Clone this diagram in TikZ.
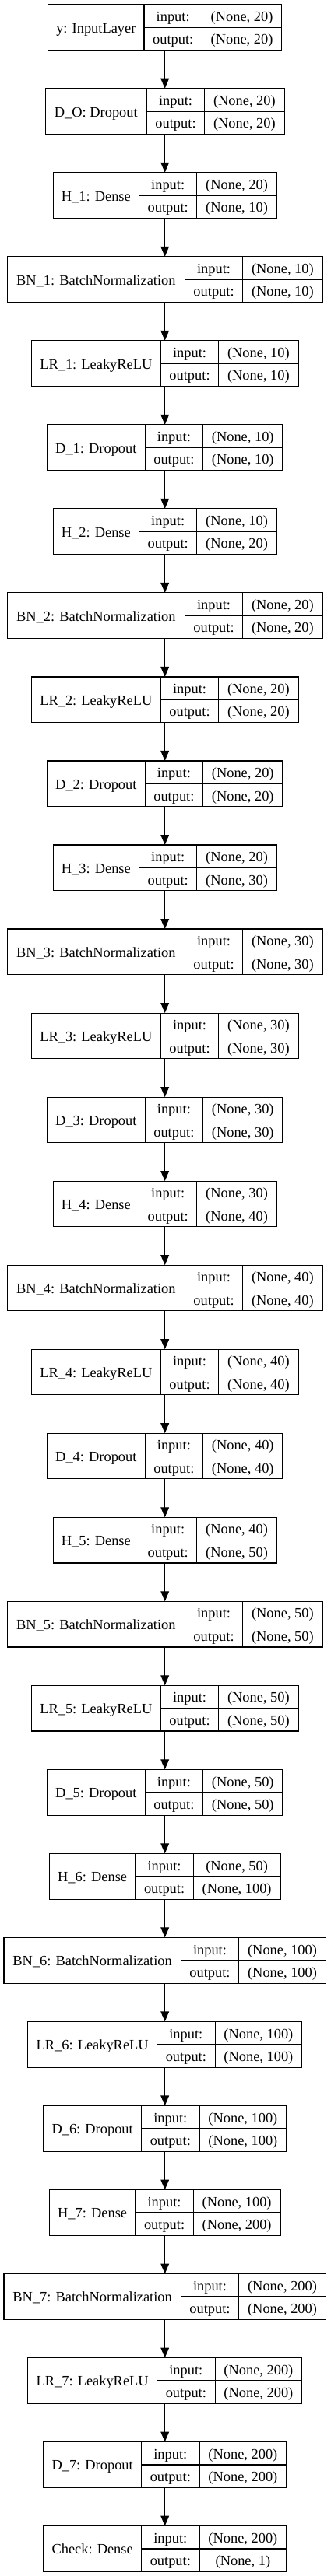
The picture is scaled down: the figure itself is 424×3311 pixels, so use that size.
\documentclass[tikz,border=0pt]{standalone}
\usepackage{fontspec}
\setmainfont{Liberation Serif}
\usetikzlibrary{arrows.meta}
\tikzset{
  layerbox/.style={draw=black, line width=1.1pt, minimum height=58.7pt, inner sep=0pt, outer sep=0pt, fill=white},
  celltext/.style={font=\fontsize{18.4}{22}\selectfont, text height=14pt, text depth=0pt, inner sep=0pt, anchor=center},
  cellline/.style={draw=black, line width=1.1pt},
  flow/.style={draw=black, line width=1.1pt, -{Triangle[width=10.7pt,length=13pt]}},
}
% #1 index, #2 label-cell width, #3 value-cell width, #4 label, #5 input shape, #6 output shape
\newcommand\klayer[6]{%
  \pgfmathsetmacro\lyT{5.7+#1*108.03}%
  \pgfmathsetmacro\lyW{#2+74.4+#3}%
  \pgfmathsetmacro\lyL{211.7-\lyW/2}%
  \pgfmathsetmacro\lyA{\lyL+#2}%
  \pgfmathsetmacro\lyB{\lyA+74.4}%
  \pgfmathsetmacro\lyR{\lyL+\lyW}%
  \pgfmathsetmacro\lyM{\lyT+29.35}%
  \pgfmathsetmacro\lyE{\lyT+58.7}%
  \pgfmathsetmacro\lyU{\lyT+14.67}%
  \pgfmathsetmacro\lyD{\lyT+44.02}%
  \pgfmathsetmacro\lyLC{\lyL+#2/2}%
  \pgfmathsetmacro\lyIC{\lyA+37.2}%
  \pgfmathsetmacro\lyVC{\lyB+#3/2}%
  \node[layerbox, minimum width=\lyW pt] (b#1) at (211.7,\lyM) {};
  \draw[cellline] (\lyA,\lyT) -- (\lyA,\lyE) (\lyB,\lyT) -- (\lyB,\lyE) (\lyA,\lyM) -- (\lyR,\lyM);
  \node[celltext] (lab#1) at (\lyLC,\lyM) {#4};
  \node[celltext] (ik#1) at (\lyIC,\lyU) {input:};
  \node[celltext] (ok#1) at (\lyIC,\lyD) {output:};
  \node[celltext] (iv#1) at (\lyVC,\lyU) {#5};
  \node[celltext] (ov#1) at (\lyVC,\lyD) {#6};
}
\begin{document}
\begin{tikzpicture}[x=1pt,y=-1pt]
  \fill[white] (0,0) rectangle (424,3311);
  \useasboundingbox (0,0) rectangle (424,3311);
  \klayer{0}{123.3}{102.3}{y: InputLayer}{(None, 20)}{(None, 20)}
  \klayer{1}{130}{102.3}{D\_O: Dropout}{(None, 20)}{(None, 20)}
  \klayer{2}{110.3}{102.3}{H\_1: Dense}{(None, 20)}{(None, 10)}
  \klayer{3}{228}{102.3}{BN\_1: BatchNormalization}{(None, 10)}{(None, 10)}
  \klayer{4}{166}{102.3}{LR\_1: LeakyReLU}{(None, 10)}{(None, 10)}
  \klayer{5}{125.7}{102.3}{D\_1: Dropout}{(None, 10)}{(None, 10)}
  \klayer{6}{110.3}{102.3}{H\_2: Dense}{(None, 10)}{(None, 20)}
  \klayer{7}{228}{102.3}{BN\_2: BatchNormalization}{(None, 20)}{(None, 20)}
  \klayer{8}{166}{102.3}{LR\_2: LeakyReLU}{(None, 20)}{(None, 20)}
  \klayer{9}{125.7}{102.3}{D\_2: Dropout}{(None, 20)}{(None, 20)}
  \klayer{10}{110.3}{102.3}{H\_3: Dense}{(None, 20)}{(None, 30)}
  \klayer{11}{228}{102.3}{BN\_3: BatchNormalization}{(None, 30)}{(None, 30)}
  \klayer{12}{166}{102.3}{LR\_3: LeakyReLU}{(None, 30)}{(None, 30)}
  \klayer{13}{125.7}{102.3}{D\_3: Dropout}{(None, 30)}{(None, 30)}
  \klayer{14}{110.3}{102.3}{H\_4: Dense}{(None, 30)}{(None, 40)}
  \klayer{15}{228}{102.3}{BN\_4: BatchNormalization}{(None, 40)}{(None, 40)}
  \klayer{16}{166}{102.3}{LR\_4: LeakyReLU}{(None, 40)}{(None, 40)}
  \klayer{17}{125.7}{102.3}{D\_4: Dropout}{(None, 40)}{(None, 40)}
  \klayer{18}{110.3}{102.3}{H\_5: Dense}{(None, 40)}{(None, 50)}
  \klayer{19}{228}{102.3}{BN\_5: BatchNormalization}{(None, 50)}{(None, 50)}
  \klayer{20}{166}{102.3}{LR\_5: LeakyReLU}{(None, 50)}{(None, 50)}
  \klayer{21}{125.7}{102.3}{D\_5: Dropout}{(None, 50)}{(None, 50)}
  \klayer{22}{110.5}{111.7}{H\_6: Dense}{(None, 50)}{(None, 100)}
  \klayer{23}{227.3}{111.7}{BN\_6: BatchNormalization}{(None, 100)}{(None, 100)}
  \klayer{24}{166}{111.7}{LR\_6: LeakyReLU}{(None, 100)}{(None, 100)}
  \klayer{25}{126}{111.7}{D\_6: Dropout}{(None, 100)}{(None, 100)}
  \klayer{26}{110.5}{111.7}{H\_7: Dense}{(None, 100)}{(None, 200)}
  \klayer{27}{227.3}{111.7}{BN\_7: BatchNormalization}{(None, 200)}{(None, 200)}
  \klayer{28}{166}{111.7}{LR\_7: LeakyReLU}{(None, 200)}{(None, 200)}
  \klayer{29}{126}{111.7}{D\_7: Dropout}{(None, 200)}{(None, 200)}
  \klayer{30}{126}{111.7}{Check: Dense}{(None, 200)}{(None, 1)}
  \foreach \i in {0,...,29} {
    \pgfmathtruncatemacro\nx{\i+1}
    \draw[flow] (b\i.south) -- (b\nx.north);
  }
\end{tikzpicture}
\end{document}
